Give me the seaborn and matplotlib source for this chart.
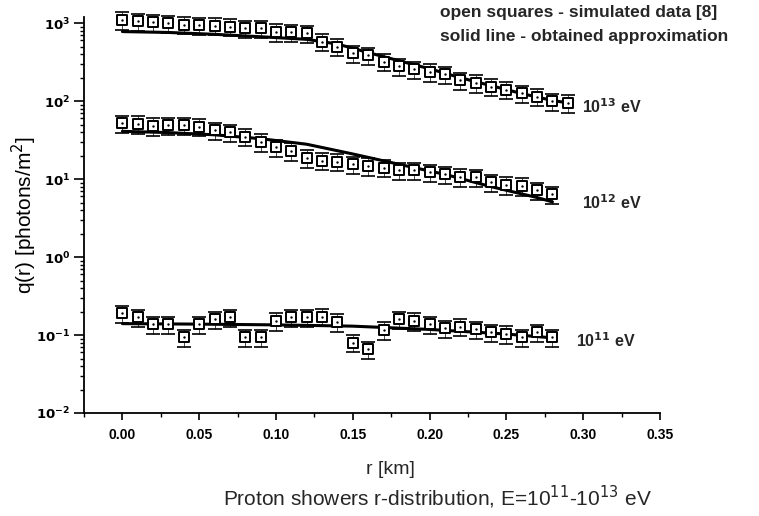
import numpy as np
import pandas as pd
import matplotlib
matplotlib.use("Agg")
import matplotlib.pyplot as plt
import matplotlib.ticker as mticker
import seaborn as sns

# ---- data ----
r13 = [0.00, 0.01, 0.02, 0.03, 0.04, 0.05, 0.06, 0.07, 0.08, 0.09,
       0.10, 0.11, 0.12, 0.13, 0.14, 0.15, 0.16, 0.17, 0.18, 0.19,
       0.20, 0.21, 0.22, 0.23, 0.24, 0.25, 0.26, 0.27, 0.28, 0.29]
q13 = [1100, 1060, 1030, 1000, 960, 940, 930, 900, 860, 860,
       770, 760, 740, 580, 500, 410, 390, 320, 280, 257,
       238, 222, 186, 172, 153, 141, 126, 114, 100, 95]

r12 = [0.00, 0.01, 0.02, 0.03, 0.04, 0.05, 0.06, 0.07, 0.08, 0.09,
       0.10, 0.11, 0.12, 0.13, 0.14, 0.15, 0.16, 0.17, 0.18, 0.19,
       0.20, 0.21, 0.22, 0.23, 0.24, 0.25, 0.26, 0.27, 0.28]
q12 = [52, 51, 48, 49, 49, 47, 42.5, 40, 35, 30,
       25.5, 23, 18.7, 17.2, 16.7, 15.4, 14.8, 14.0, 13.0, 13.0,
       12.2, 11.5, 10.7, 10.5, 9.1, 8.4, 8.2, 7.2, 6.4]

r11 = [0.00, 0.01, 0.02, 0.03, 0.04, 0.05, 0.06, 0.07, 0.08, 0.09,
       0.10, 0.11, 0.12, 0.13, 0.14, 0.15, 0.16, 0.17, 0.18, 0.19,
       0.20, 0.21, 0.22, 0.23, 0.24, 0.25, 0.26, 0.27, 0.28]
q11 = [0.19, 0.169, 0.138, 0.138, 0.094, 0.138, 0.159, 0.169, 0.094, 0.094,
       0.152, 0.169, 0.169, 0.172, 0.148, 0.080, 0.066, 0.116, 0.159, 0.152,
       0.138, 0.122, 0.128, 0.119, 0.108, 0.103, 0.094, 0.108, 0.094]

rel_err = 0.25

# approximation curves
fit13_r = [0.00, 0.03, 0.06, 0.09, 0.12, 0.14, 0.16, 0.18, 0.20, 0.22, 0.24, 0.26, 0.28, 0.29]
fit13_q = [780, 760, 720, 670, 620, 540, 420, 330, 260, 200, 158, 125, 102, 95]
fit12_r = [0.00, 0.03, 0.06, 0.09, 0.12, 0.15, 0.18, 0.21, 0.24, 0.27, 0.28]
fit12_q = [41, 39.5, 37, 33, 28, 21, 15.5, 11.5, 8.0, 5.8, 5.1]
fit11_r = [0.00, 0.05, 0.10, 0.15, 0.20, 0.25, 0.28]
fit11_q = [0.140, 0.138, 0.135, 0.130, 0.118, 0.103, 0.092]

labels = ["10$^{\\mathbf{13}}$ eV", "10$^{\\mathbf{12}}$ eV", "10$^{\\mathbf{11}}$ eV"]

pts = pd.concat([
    pd.DataFrame({"r": r13, "q": q13, "E": "13"}),
    pd.DataFrame({"r": r12, "q": q12, "E": "12"}),
    pd.DataFrame({"r": r11, "q": q11, "E": "11"}),
])
fits = pd.concat([
    pd.DataFrame({"r": fit13_r, "q": fit13_q, "E": "13"}),
    pd.DataFrame({"r": fit12_r, "q": fit12_q, "E": "12"}),
    pd.DataFrame({"r": fit11_r, "q": fit11_q, "E": "11"}),
])

sns.set_theme(style="ticks")
plt.rcParams["font.family"] = ["Liberation Sans", "DejaVu Sans"]

fig = plt.figure(figsize=(7.59, 5.16), dpi=100)
ax = fig.add_axes([84/759, 1-413/516, (660-84)/759, (413-17)/516])

# error caps
for E, g in pts.groupby("E"):
    q = g["q"].to_numpy()
    ax.errorbar(g["r"], q, yerr=[q*rel_err, q*rel_err], fmt="none",
                ecolor="black", elinewidth=0.5, capsize=5, capthick=1.2,
                zorder=2, clip_on=False)

# approximation lines
sns.lineplot(data=fits, x="r", y="q", units="E", estimator=None, color="black",
             linewidth=2.2, ax=ax, zorder=3, legend=False)

# open squares
sns.scatterplot(data=pts, x="r", y="q", marker="s", s=48, facecolor="white",
                edgecolor="black", linewidth=1.4, ax=ax, zorder=4, legend=False,
                clip_on=False)
sns.scatterplot(data=pts, x="r", y="q", marker="o", s=3, color="black",
                linewidth=0, ax=ax, zorder=5, legend=False, clip_on=False)

ax.set_yscale("log")
ax.set_xlim(-0.025, 0.35)
ax.set_ylim(0.01, 1200)
ax.xaxis.set_major_locator(mticker.MultipleLocator(0.05))
ax.xaxis.set_minor_locator(mticker.MultipleLocator(0.025))
ax.xaxis.set_major_formatter(mticker.FormatStrFormatter("%.2f"))
ax.yaxis.set_major_locator(mticker.LogLocator(base=10, numticks=10))
ax.yaxis.set_minor_locator(mticker.LogLocator(base=10, subs=np.arange(2, 10), numticks=10))
ax.yaxis.set_major_formatter(mticker.FuncFormatter(
    lambda v, p: "$\\mathbf{10^{%d}}$" % int(round(np.log10(v)))))
ax.yaxis.set_minor_formatter(mticker.NullFormatter())

sns.despine(ax=ax, top=True, right=True)
for s in ["left", "bottom"]:
    ax.spines[s].set_linewidth(1.3)
    ax.spines[s].set_color("black")
ax.tick_params(axis="both", which="major", direction="out", length=5, width=1.2,
               colors="black", labelsize=10)
ax.tick_params(axis="y", which="major", length=7, labelsize=9.5, pad=3)
ax.tick_params(axis="both", which="minor", direction="out", length=3, width=1.0,
               colors="black")
for t in ax.get_xticklabels():
    t.set_fontweight("bold")
ax.tick_params(axis="x", pad=6)

ax.set_xlabel("")
ax.set_ylabel("")
fig.text(24/759, 1-215/516, "q(r) [photons/m$^2$]", rotation=90, ha="center",
         va="center", fontsize=15, color="black")

fig.text(390/759, 1-470/516, "r [km]", ha="center", va="center", fontsize=14)
fig.text(437/759, 1-497/516, "Proton showers r-distribution, E=10$^{11}$-10$^{13}$ eV",
         ha="center", va="center", fontsize=15)

fig.text(440/759, 1-12/516, "open squares - simulated data [8]", ha="left", va="center",
         fontsize=12.5, fontweight="bold")
fig.text(440/759, 1-36/516, "solid line - obtained approximation", ha="left", va="center",
         fontsize=12.5, fontweight="bold")

ax.text(0.2995, 85, labels[0], ha="left", va="center", fontsize=11.5, fontweight="bold")
ax.text(0.2995, 5.0, labels[1], ha="left", va="center", fontsize=11.5, fontweight="bold")
ax.text(0.295, 0.085, labels[2], ha="left", va="center", fontsize=11.5, fontweight="bold")

fig.savefig("out.png", dpi=100)
